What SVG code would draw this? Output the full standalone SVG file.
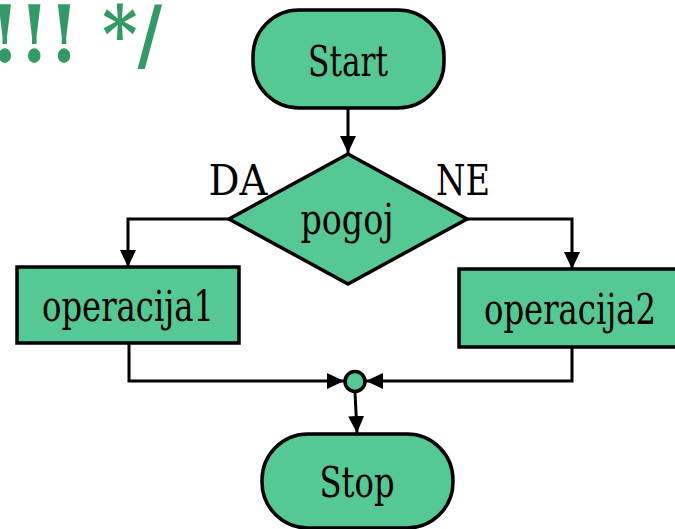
<svg xmlns="http://www.w3.org/2000/svg" width="675" height="529" viewBox="0 0 675 529">
<style>
.shape{fill:#56c893;stroke:#000;stroke-width:3.5}
.lbl{font-family:'DejaVu Serif','Liberation Serif',serif;font-size:42px;fill:#000;text-anchor:middle}
.conn{fill:none;stroke:#000;stroke-width:3}
.title{font-family:'DejaVu Serif','Liberation Serif',serif;font-size:78px;font-weight:bold;fill:#339966}
</style>
<defs>
<marker id="arr" markerUnits="userSpaceOnUse" markerWidth="18" markerHeight="18" viewBox="0 0 18 18" refX="17" refY="9" orient="auto">
<path d="M0,1 L17,9 L0,17 Z" fill="#000"/>
</marker>
</defs>
<text class="title" x="-10" y="62" textLength="172" lengthAdjust="spacingAndGlyphs">!!! */</text>
<g id="connectors">
<path class="conn" d="M348,108 L348,153" marker-end="url(#arr)"/>
<path class="conn" d="M229,219 L128,219 L128,267" marker-end="url(#arr)"/>
<path class="conn" d="M467,219 L572,219 L572,269" marker-end="url(#arr)"/>
<path class="conn" d="M129,343 L129,381 L344,381" marker-end="url(#arr)"/>
<path class="conn" d="M572,347 L572,381 L366,381" marker-end="url(#arr)"/>
<path class="conn" d="M355,392 L357,433" marker-end="url(#arr)"/>
</g>
<g id="start">
<rect class="shape" x="253" y="10" width="191" height="98" rx="46" ry="46"/>
<text class="lbl" x="348" y="76" textLength="80" lengthAdjust="spacingAndGlyphs">Start</text>
</g>
<g id="pogoj">
<polygon class="shape" points="348,154 467,219 348,284 229,219"/>
<text class="lbl" x="347" y="234" textLength="93" lengthAdjust="spacingAndGlyphs">pogoj</text>
<text class="lbl" x="238" y="195" textLength="59" lengthAdjust="spacingAndGlyphs">DA</text>
<text class="lbl" x="463" y="195" textLength="54" lengthAdjust="spacingAndGlyphs">NE</text>
</g>
<g id="operacija1">
<rect class="shape" x="17" y="267" width="222" height="76"/>
<text class="lbl" x="128" y="321" textLength="172" lengthAdjust="spacingAndGlyphs">operacija1</text>
</g>
<g id="operacija2">
<rect class="shape" x="459" y="269" width="230" height="78"/>
<text class="lbl" x="570" y="324" textLength="172" lengthAdjust="spacingAndGlyphs">operacija2</text>
</g>
<g id="join">
<circle class="shape" cx="355" cy="381.5" r="10"/>
</g>
<g id="stop">
<rect class="shape" x="262" y="434" width="191" height="94" rx="46" ry="46"/>
<text class="lbl" x="357" y="497" textLength="75" lengthAdjust="spacingAndGlyphs">Stop</text>
</g>
</svg>
